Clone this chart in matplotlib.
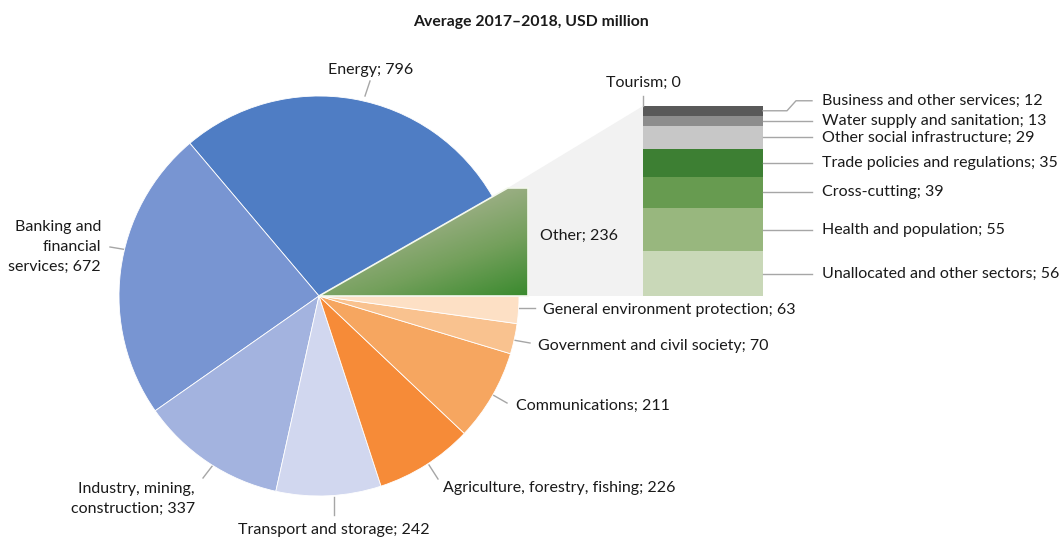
import numpy as np
import matplotlib
matplotlib.use("Agg")
import matplotlib.pyplot as plt
from matplotlib.patches import Polygon
from matplotlib.colors import LinearSegmentedColormap

plt.rcParams['font.family'] = ['Lato', 'DejaVu Sans']

# pie data, counter-clockwise from 3 o'clock
pie_labels = ["Other", "Energy", "Banking and\nfinancial\nservices", "Industry, mining,\nconstruction",
              "Transport and storage", "Agriculture, forestry, fishing", "Communications",
              "Government and civil society", "General environment protection"]
pie_values = [236, 796, 672, 337, 242, 226, 211, 70, 63]
pie_colors = ["none", "#4f7dc4", "#7895d2", "#a3b3df", "#d1d7ef", "#f68b38", "#f6a660",
              "#f9c28f", "#fde0c5"]

# breakdown of "Other", bottom to top
bar_labels = ["Unallocated and other sectors", "Health and population", "Cross-cutting",
              "Trade policies and regulations", "Other social infrastructure",
              "Water supply and sanitation", "Business and other services", "Tourism"]
bar_values = [56, 55, 39, 35, 29, 13, 12, 0]
bar_colors = ["#c9d8b8", "#98b77e", "#679b50", "#3d7f33", "#c7c7c7", "#8d8d8d", "#595959", "#595959"]

W, H = 1062, 541
fig = plt.figure(figsize=(W / 100, H / 100), dpi=100)
ax = fig.add_axes([0, 0, 1, 1])

def py(y):
    # pixel row (from top) -> data y
    return H - y

cx, cy, R = 319, py(296), 200
txt = dict(fontsize=11.5, color="#1a1a1a")
lc = "#a6a6a6"

wedges, _ = ax.pie(pie_values, colors=pie_colors, startangle=0, counterclock=True,
                   center=(cx, cy), radius=R,
                   wedgeprops=dict(edgecolor="white", linewidth=0.6))
for w in wedges:
    w.set_zorder(2)

# "Other" slice: gradient box cut by the slice angle
th = np.deg2rad(wedges[0].theta2)
top, right = py(188), 528
xt = cx + (top - cy) / np.tan(th)
wedges[0].set_visible(False)

# grey connector to the bar
bx0, bx1, btop, bbot = 643, 763, 106, 296
conn = Polygon([(xt, top), (bx0, py(btop)), (bx0, py(bbot)), (right, py(bbot)), (right, top)],
               closed=True, facecolor="#f2f2f2", edgecolor="none", zorder=0)
ax.add_patch(conn)

clip = Polygon([(cx, cy), (xt, top), (right, top), (right, cy)], closed=True,
               facecolor="none", edgecolor="#f4f8ee", linewidth=1.2, zorder=4)
ax.add_patch(clip)
gx, gy = np.meshgrid(np.linspace(0, 1, 200), np.linspace(0, 1, 120))
grad = 0.7 * gx + gy
grad = (grad - grad.min()) / (grad.max() - grad.min())
cmap = LinearSegmentedColormap.from_list("g", ["#cfcfcb", "#9fb088", "#74a05c", "#3a8a2e"])
im = ax.imshow(grad, cmap=cmap, extent=(cx, right, cy, top), origin="upper",
               aspect="auto", zorder=3, interpolation="bilinear")
im.set_clip_path(clip)

ax.set_xlim(0, W)
ax.set_ylim(0, H)
ax.axis("off")

ax.text(W / 2, py(22), "Average 2017\u20132018, USD million", ha="center", va="center",
        fontsize=11.3, fontweight="bold", color="#1a1a1a")

# pie labels: (leader line start, leader line end, text pos, ha)
pie_annot = [
    (None, None, (540, 236), "left"),
    ((365, 96), (370, 81), (371, 70), "center"),
    ((128, 250), (110, 247), (101, 247), "right"),
    ((213, 465), (203, 478), (195, 499), "right"),
    ((334, 497), (334, 515), (334, 530), "center"),
    ((429, 465), (438, 479), (443, 488), "left"),
    ((493, 395), (507, 403), (516, 406), "left"),
    ((513, 340), (530, 343), (538, 346), "left"),
    ((518, 308), (535, 308), (543, 310), "left"),
]
for (p0, p1, tp, ha), lab, v in zip(pie_annot, pie_labels, pie_values):
    if p0 is not None:
        ax.plot([p0[0], p1[0]], [py(p0[1]), py(p1[1])], color=lc, lw=1, zorder=1)
    ax.text(tp[0], py(tp[1]), f"{lab}; {v}", ha=ha, va="center", linespacing=1.5, **txt)

# stacked bar
axb = fig.add_axes([bx0 / W, (H - bbot) / H, (bx1 - bx0) / W, (bbot - btop) / H])
total = sum(bar_values)
bottoms = np.concatenate([[0], np.cumsum(bar_values)[:-1]])
axb.bar(0, bar_values, bottom=bottoms, width=1, color=bar_colors, linewidth=0)
axb.set_xlim(-0.5, 0.5)
axb.set_ylim(0, total)
axb.axis("off")

tr = axb.get_yaxis_transform()
unit = total / (bbot - btop)  # data units per pixel
xl0, xl1, xtx = 1.0, (812 - bx0) / (bx1 - bx0), (822 - bx0) / (bx1 - bx0)
for lab, v, b in zip(bar_labels, bar_values, bottoms):
    mid = b + v / 2
    if v == 0:
        axb.plot([0.0, 0.0], [total, total + 10 * unit], color=lc, lw=1, transform=tr, clip_on=False)
        axb.text(0.0, total + 23 * unit, f"{lab}; {v}", ha="center", va="center",
                 transform=tr, **txt)
    elif lab.startswith("Business"):
        ty = mid + 10 * unit
        xa, xb = (787 - bx0) / (bx1 - bx0), (796 - bx0) / (bx1 - bx0)
        axb.plot([xl0, xa, xb, xl1], [mid, mid, ty, ty], color=lc, lw=1, transform=tr, clip_on=False)
        axb.text(xtx, ty, f"{lab}; {v}", ha="left", va="center", transform=tr, **txt)
    else:
        axb.plot([xl0, xl1], [mid, mid], color=lc, lw=1, transform=tr, clip_on=False)
        axb.text(xtx, mid, f"{lab}; {v}", ha="left", va="center", transform=tr, **txt)

fig.savefig("out.png", dpi=100)
